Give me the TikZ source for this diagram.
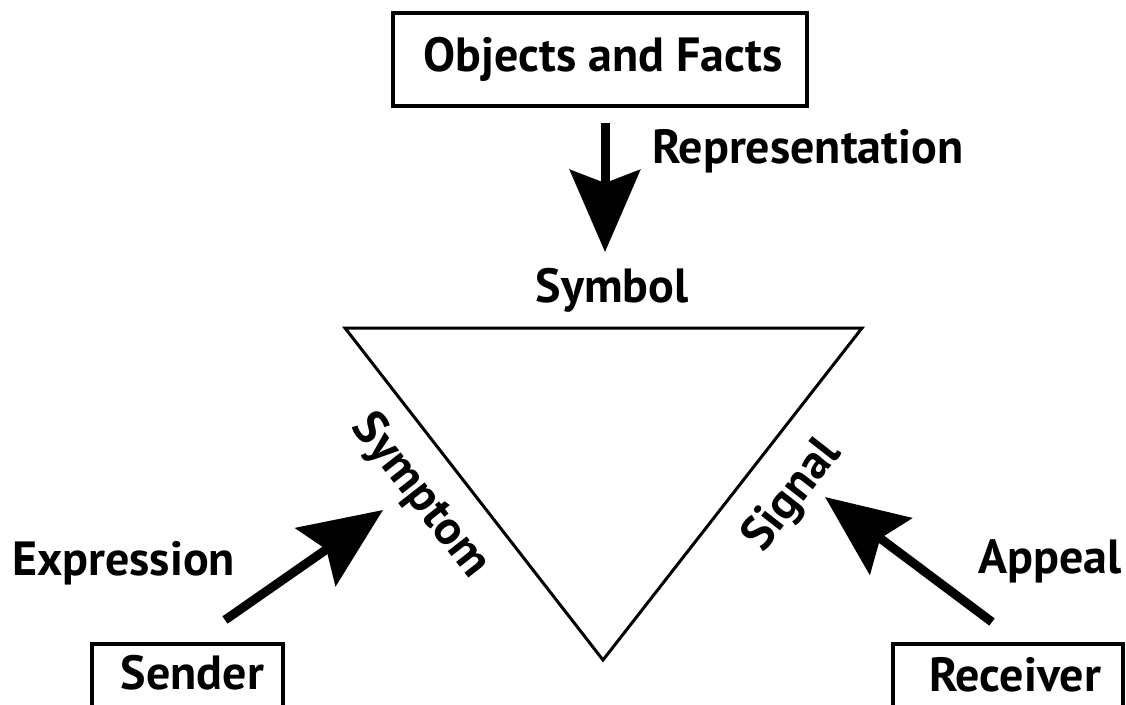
\documentclass[tikz,border=0pt]{standalone}
\usepackage{fontspec}
\setmainfont{PT Sans}
\usetikzlibrary{arrows.meta}
\begin{document}
\begin{tikzpicture}[x=1pt,y=-1pt,
  lbl/.style={font=\fontsize{48}{52}\selectfont\bfseries, inner sep=0pt},
  boxnode/.style={draw, line width=3.5pt, inner sep=0pt, font=\fontsize{48}{52}\selectfont\bfseries},
  bigarrow/.style={line width=9pt, -{Stealth[length=82pt, width=70pt, inset=13pt]}},
  tri/.style={draw, line width=3pt, line join=miter}]
\useasboundingbox (0,0) rectangle (1126,704);
\fill[white] (0,0) rectangle (1126,704);

% top box
\node[boxnode, minimum width=414pt, minimum height=93pt] (objects) at (600,59.5) {\hspace*{6pt}Objects and Facts};

% representation arrow
\coordinate (repstart) at (605,123);
\coordinate (reptip) at (605,252);
\draw[bigarrow] (repstart) -- (reptip);
\node[lbl, anchor=base west] (represent) at (652,163) {Representation};
\node[lbl, anchor=base] (symbol) at (612,302) {Symbol};

% triangle
\coordinate (tl) at (345,328);
\coordinate (tr) at (862,328);
\coordinate (bot) at (603,660);
\draw[tri] (tl) -- (tr) -- (bot) -- cycle;

\node[lbl, rotate=-52] (symptom) at (420,496) {Symptom};
\node[lbl, rotate=52] (signal) at (793,496) {Signal};

% sender
\node[boxnode, anchor=north, minimum width=191pt, text height=46pt, text depth=60pt] (sender) at (187.5,642) {\hspace*{10pt}Sender};
\node[lbl, anchor=base west] (expression) at (12,575) {Expression};
\coordinate (exptail) at (225,620);
\coordinate (exptip) at (383,510);
\draw[bigarrow] (exptail) -- (exptip);

% receiver
\node[boxnode, anchor=north, minimum width=230pt, text height=48pt, text depth=60pt] (receiver) at (1008,642) {\hspace*{14pt}Receiver};
\node[lbl, anchor=base east] (appeal) at (1122,573) {Appeal};
\coordinate (apptail) at (992,622);
\coordinate (apptip) at (825,497);
\draw[bigarrow] (apptail) -- (apptip);
\end{tikzpicture}
\end{document}
